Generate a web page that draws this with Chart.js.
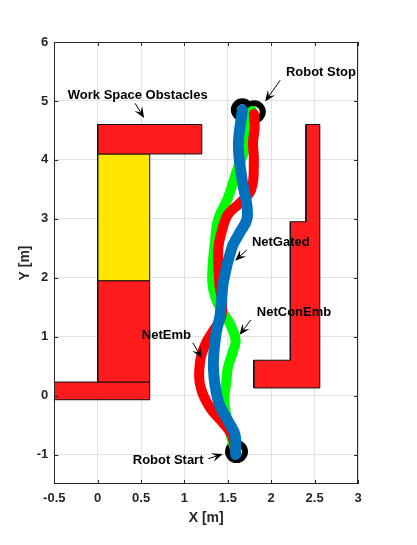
<!DOCTYPE html>
<html>
<head>
<meta charset="utf-8">
<script src="https://cdn.jsdelivr.net/npm/chart.js@4.4.1/dist/chart.umd.min.js"></script>
<style>
  html, body { margin: 0; padding: 0; background: #fff; }
  #wrap { width: 417px; height: 545px; }
</style>
</head>
<body>
<div id="wrap"><canvas id="pathChart"></canvas></div>
<script>
// axis ticks
const xTicks = [-0.5, 0, 0.5, 1, 1.5, 2, 2.5, 3];
const yTicks = [-1, 0, 1, 2, 3, 4, 5, 6];

// trajectories
const netGatedX = [1.59, 1.584, 1.507, 1.392, 1.334, 1.362, 1.411, 1.449, 1.546, 1.622, 1.725, 1.661, 1.622, 1.668];
const netGatedY = [-1.0, -0.67, -0.443, -0.104, 0.469, 1.029, 1.368, 1.934, 2.506, 2.727, 3.04, 3.694, 4.255, 4.849];

const netEmbX = [1.59, 1.546, 1.431, 1.296, 1.18, 1.18, 1.238, 1.31, 1.42, 1.43, 1.40, 1.39, 1.42, 1.50, 1.64, 1.77, 1.80, 1.79, 1.81, 1.80];
const netEmbY = [-0.95, -0.67, -0.443, -0.211, 0.18, 0.576, 0.86, 1.05, 1.32, 1.6, 1.93, 2.5, 2.73, 3.07, 3.27, 3.5, 3.97, 4.3, 4.55, 4.78];

const netConEmbX = [1.59, 1.52, 1.46, 1.48, 1.50, 1.57, 1.59, 1.53, 1.46, 1.36, 1.32, 1.33, 1.35, 1.39, 1.50, 1.60, 1.70, 1.76, 1.78];
const netConEmbY = [-0.95, -0.6, -0.10, 0.2, 0.47, 0.80, 0.94, 1.2, 1.37, 1.65, 1.93, 2.3, 2.6, 3.0, 3.35, 3.8, 4.2, 4.6, 4.83];

// start / stop markers
const markerX = [1.60, 1.667, 1.805];
const markerY = [-0.95, 4.85, 4.815];

// obstacles (closed polygons)
const topBarX = [0, 1.2, 1.2, 0, 0];
const topBarY = [4.1, 4.1, 4.6, 4.6, 4.1];
const yellowX = [0, 0.6, 0.6, 0, 0];
const yellowY = [1.95, 1.95, 4.1, 4.1, 1.95];
const leftPostX = [0, 0.6, 0.6, 0, 0];
const leftPostY = [0.23, 0.23, 1.95, 1.95, 0.23];
const bottomBarX = [-0.5, 0.6, 0.6, -0.5, -0.5];
const bottomBarY = [-0.07, -0.07, 0.23, 0.23, -0.07];
const rightWallX = [1.8, 2.56, 2.56, 2.4, 2.4, 2.22, 2.22, 1.8, 1.8];
const rightWallY = [0.13, 0.13, 4.6, 4.6, 2.95, 2.95, 0.6, 0.6, 0.13];

// text annotations: left/middle of text, arrow tail -> head
const noteLabels = ['Work Space Obstacles', 'Robot Stop', 'NetGated', 'NetConEmb', 'NetEmb', 'Robot Start'];
const noteAt = [[-0.345, 5.10], [2.169, 5.48], [1.777, 2.596], [1.834, 1.407], [0.508, 1.029], [0.404, -1.105]];
const arrowFrom = [[0.431, 4.96], [2.103, 5.35], [1.719, 2.472], [1.765, 1.284], [1.096, 0.898], [1.276, -1.071]];
const arrowTo = [[0.535, 4.71], [1.930, 4.99], [1.584, 2.290], [1.634, 1.029], [1.200, 0.633], [1.442, -0.991]];

const pts = (xs, ys) => xs.map((x, i) => ({ x, y: ys[i] }));

const FONT = '"Liberation Sans", Arial, sans-serif';

const pathLine = (label, xs, ys, color, width, order) => ({
  label, data: pts(xs, ys), showLine: true, borderColor: color, borderWidth: width,
  pointRadius: 0, tension: 0.4, fill: false, borderCapStyle: 'round', borderJoinStyle: 'round', order
});

const block = (xs, ys, color, order) => ({
  data: pts(xs, ys), showLine: true, fill: 'shape', backgroundColor: color,
  borderColor: '#111', borderWidth: 1, pointRadius: 0, tension: 0, order
});

const drawArrow = (ctx, x1, y1, x2, y2) => {
  const ang = Math.atan2(y2 - y1, x2 - x1);
  const len = 11, half = 4.5;
  const c = Math.cos(ang), s = Math.sin(ang);
  ctx.beginPath();
  ctx.moveTo(x1, y1);
  ctx.lineTo(x2 - c * len * 0.6, y2 - s * len * 0.6);
  ctx.stroke();
  ctx.beginPath();
  ctx.moveTo(x2, y2);
  ctx.lineTo(x2 - c * len + s * half, y2 - s * len - c * half);
  ctx.lineTo(x2 - c * len * 0.6, y2 - s * len * 0.6);
  ctx.lineTo(x2 - c * len - s * half, y2 - s * len + c * half);
  ctx.closePath();
  ctx.fill();
};

const framePlugin = {
  id: 'frame',
  afterDatasetsDraw(chart) {
    const { ctx, chartArea: a, scales: { x, y } } = chart;
    ctx.save();
    ctx.strokeStyle = '#262626';
    ctx.lineWidth = 1;
    ctx.strokeRect(Math.round(a.left) + 0.5, Math.round(a.top) + 0.5, Math.round(a.width) - 1, Math.round(a.height) - 1);
    // inward ticks on all sides
    ctx.beginPath();
    xTicks.forEach(v => {
      const px = Math.round(x.getPixelForValue(v)) + 0.5;
      ctx.moveTo(px, a.bottom); ctx.lineTo(px, a.bottom - 4);
      ctx.moveTo(px, a.top); ctx.lineTo(px, a.top + 4);
    });
    yTicks.forEach(v => {
      const py = Math.round(y.getPixelForValue(v)) + 0.5;
      ctx.moveTo(a.left, py); ctx.lineTo(a.left + 4, py);
      ctx.moveTo(a.right, py); ctx.lineTo(a.right - 4, py);
    });
    ctx.stroke();

    // annotations
    ctx.fillStyle = '#000';
    ctx.strokeStyle = '#000';
    ctx.font = 'bold 13px ' + FONT;
    ctx.textAlign = 'left';
    ctx.textBaseline = 'middle';
    noteLabels.forEach((t, i) => {
      ctx.fillText(t, x.getPixelForValue(noteAt[i][0]), y.getPixelForValue(noteAt[i][1]));
      drawArrow(ctx,
        x.getPixelForValue(arrowFrom[i][0]), y.getPixelForValue(arrowFrom[i][1]),
        x.getPixelForValue(arrowTo[i][0]), y.getPixelForValue(arrowTo[i][1]));
    });

    // axis titles
    ctx.fillStyle = '#262626';
    ctx.font = 'bold 14px ' + FONT;
    ctx.textAlign = 'center';
    ctx.fillText('X [m]', (a.left + a.right) / 2, 518);
    ctx.translate(25, (a.top + a.bottom) / 2);
    ctx.rotate(-Math.PI / 2);
    ctx.fillText('Y [m]', 0, 0);
    ctx.restore();
  }
};

const tickFont = { family: FONT, size: 13, weight: 'bold' };

new Chart(document.getElementById('pathChart'), {
  type: 'scatter',
  data: {
    datasets: [
      pathLine('NetGated', netGatedX, netGatedY, '#0072bd', 11, 1),
      pathLine('NetEmb', netEmbX, netEmbY, '#ff0000', 10, 2),
      pathLine('NetConEmb', netConEmbX, netConEmbY, '#00ff00', 10, 3),
      {
        label: 'markers', data: pts(markerX, markerY), showLine: false,
        pointRadius: 8.5, pointBorderWidth: 6, pointBorderColor: '#000',
        pointBackgroundColor: 'rgba(0,0,0,0)', order: 4
      },
      block(topBarX, topBarY, '#ff1c1c', 5),
      block(yellowX, yellowY, '#ffe600', 5),
      block(leftPostX, leftPostY, '#ff1c1c', 5),
      block(bottomBarX, bottomBarY, '#ff1c1c', 5),
      block(rightWallX, rightWallY, '#ff1c1c', 5)
    ]
  },
  options: {
    responsive: true,
    maintainAspectRatio: false,
    animation: false,
    layout: { padding: { top: 42, right: 59, left: 0, bottom: 0 } },
    plugins: { legend: { display: false }, tooltip: { enabled: false } },
    scales: {
      x: {
        type: 'linear', min: -0.5, max: 3,
        afterBuildTicks: s => { s.ticks = xTicks.map(v => ({ value: v })); },
        afterFit: s => { s.height = 61; },
        ticks: { font: tickFont, color: '#262626', padding: 7, maxRotation: 0, autoSkip: false, callback: v => String(v) },
        grid: { color: '#e2e2e2', drawTicks: false },
        border: { display: false }
      },
      y: {
        type: 'linear', min: -1.5, max: 6,
        afterBuildTicks: s => { s.ticks = yTicks.map(v => ({ value: v })); },
        afterFit: s => { s.width = 54.3; },
        ticks: { font: tickFont, color: '#262626', padding: 6, autoSkip: false, callback: v => String(v) },
        grid: { color: '#e2e2e2', drawTicks: false },
        border: { display: false }
      }
    }
  },
  plugins: [framePlugin]
});
</script>
</body>
</html>
